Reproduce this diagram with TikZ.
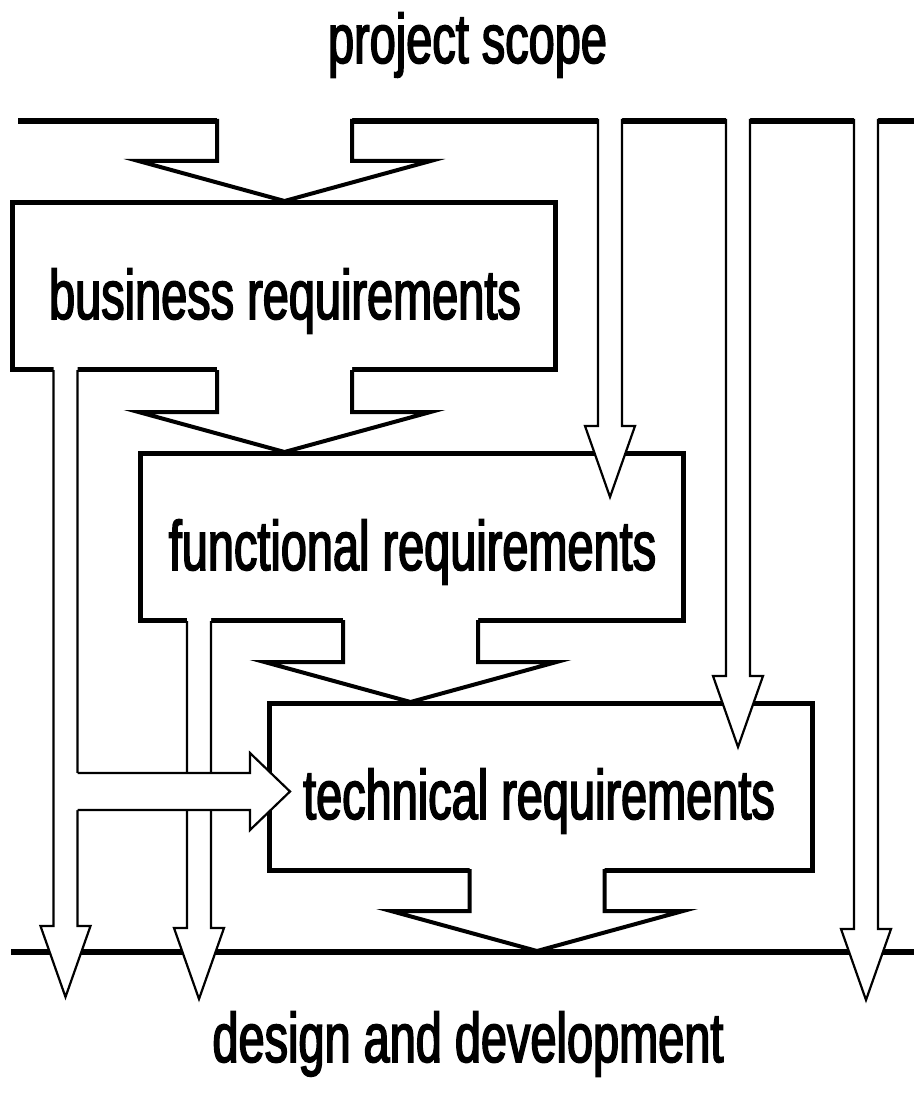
\documentclass[tikz,border=0pt]{standalone}
\usepackage{fontspec}
\newfontfamily\labelfont[FakeStretch=0.67,FakeBold=2.2]{Liberation Sans}

\tikzset{
  rail/.style={line width=6pt, line cap=butt},
  panel/.style={draw=black, fill=white, line width=5pt, inner sep=0pt,
                minimum width=543pt, minimum height=167pt},
  fatedge/.style={draw=black, line width=4pt, line join=miter},
  slimedge/.style={draw=black, line width=2.2pt, line join=miter},
  txt/.style={font=\labelfont\fontsize{70pt}{70pt}\selectfont, inner sep=0pt, anchor=base},
  % wide block arrow, origin at its tip
  pics/fatarrow/.style={code={
    \fill[white] (-67.5,-86) -- (-67.5,-40) -- (-146,-40) -- (0,0) -- (146,-40)
                 -- (67.5,-40) -- (67.5,-86) -- cycle;
    \draw[fatedge] (-67.5,-82) -- (-67.5,-40) -- (-146,-40) -- (0,0) -- (146,-40)
                 -- (67.5,-40) -- (67.5,-82);
  }},
  % slim arrow, origin at its tip, #1 = length from the tip back to the start of the shaft
  pics/slimarrow/.style={code={
    \fill[white] (-12,-#1-4) -- (-12,-71) -- (-25,-71) -- (0,0) -- (25,-71)
                 -- (12,-71) -- (12,-#1-4) -- cycle;
    \draw[slimedge] (-12,-#1) -- (-12,-71) -- (-25,-71) -- (0,0) -- (25,-71)
                 -- (12,-71) -- (12,-#1);
  }}
}

\begin{document}
\begin{tikzpicture}[x=1pt, y=-1pt]
  \useasboundingbox[fill=white] (0,0) rectangle (914,1110);

  % scope and delivery rails
  \draw[rail] (18,121) -- (914,121);
  \draw[rail] (11,952) -- (914,952);

  % requirement boxes
  \node[panel] (biz)  at (284,286)   {};
  \node[panel] (func) at (412,537)   {};
  \node[panel] (tech) at (541,786.5) {};

  % tips of the arrows
  \coordinate (bizIn)   at (284.5,201);
  \coordinate (funcIn)  at (284.5,452);
  \coordinate (techIn)  at (410.5,702);
  \coordinate (devIn)   at (537,951);
  \coordinate (scopeF)  at (610,497);
  \coordinate (scopeT)  at (738,747);
  \coordinate (scopeD)  at (866,1000);
  \coordinate (bizD)    at (65.5,997);
  \coordinate (funcD)   at (199,999);
  \coordinate (bizT)    at (290,791.5);

  % slim arrows from the boxes down to the delivery rail
  \pic at (bizD)  {slimarrow=627};
  \pic at (funcD) {slimarrow=378};

  % branch from the business requirements into the technical requirements
  \fill[white] (60,773) -- (250,773) -- (250,753) -- (bizT) -- (250,830)
               -- (250,810) -- (60,810) -- cycle;
  \draw[slimedge] (77.5,773) -- (250,773) -- (250,753) -- (bizT) -- (250,830)
               -- (250,810) -- (77.5,810);

  % slim arrows from the project scope
  \pic at (scopeF) {slimarrow=378};
  \pic at (scopeT) {slimarrow=628};
  \pic at (scopeD) {slimarrow=881};

  % main flow
  \pic at (bizIn)  {fatarrow};
  \pic at (funcIn) {fatarrow};
  \pic at (techIn) {fatarrow};
  \pic at (devIn)  {fatarrow};

  % texts
  \node[txt] (scope)  at (467.5,63)  {project scope};
  \node[txt] (design) at (468,1062)  {design and development};
  \node[txt] (bizL)   at (285,319)   {business requirements};
  \node[txt] (funcL)  at (412.5,570) {functional requirements};
  \node[txt] (techL)  at (539,819)   {technical requirements};
\end{tikzpicture}
\end{document}
